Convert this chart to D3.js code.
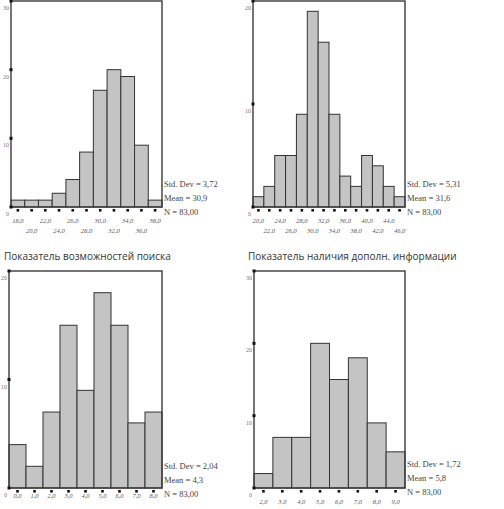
<!DOCTYPE html>
<html>
<head>
<meta charset="utf-8">
<script src="https://cdn.jsdelivr.net/npm/d3@7"></script>
<style>
  html, body { margin: 0; padding: 0; background: #fff; }
  svg { display: block; }
</style>
</head>
<body>
<div id="chart"></div>
<script>
// Histogram data (bin centres and counts)
const binsA = [18, 20, 22, 24, 26, 28, 30, 32, 34, 36, 38];
const countsA = [1, 1, 1, 2, 4, 8, 17, 20, 19, 9, 1];
const statsA = ['Std. Dev = 3,72', 'Mean = 30,9', 'N = 83,00'];

const binsB = [20, 22, 24, 26, 28, 30, 32, 34, 36, 38, 40, 42, 44, 46];
const countsB = [1, 2, 5, 5, 9, 19, 16, 9, 3, 2, 5, 4, 2, 1];
const statsB = ['Std. Dev = 5,31', 'Mean = 31,6', 'N = 83,00'];

const binsC = [0, 1, 2, 3, 4, 5, 6, 7, 8];
const countsC = [4, 2, 7, 15, 9, 18, 15, 6, 7];
const statsC = ['Std. Dev = 2,04', 'Mean = 4,3', 'N = 83,00'];
const titleC = 'Показатель возможностей поиска';

const binsD = [2, 3, 4, 5, 6, 7, 8, 9];
const countsD = [2, 7, 7, 20, 15, 18, 9, 5];
const statsD = ['Std. Dev = 1,72', 'Mean = 5,8', 'N = 83,00'];
const titleD = 'Показатель наличия дополн. информации';

const svg = d3.select('#chart')
  .append('svg')
  .attr('width', 504)
  .attr('height', 509);

// Draw one SPSS-style histogram inside a frame box
function drawHist(opt) {
  const g = svg.append('g');

  const x = d3.scaleBand()
    .domain(opt.bins)
    .range([opt.left, opt.right])
    .paddingInner(0)
    .paddingOuter(0);

  const y = d3.scaleLinear()
    .domain([0, opt.yMax])
    .range([opt.bottom, opt.top]);

  // bars
  g.selectAll('.bar')
    .data(opt.bins)
    .enter()
    .append('rect')
    .attr('x', (d) => x(d))
    .attr('y', (d, i) => y(opt.counts[i]))
    .attr('width', x.bandwidth())
    .attr('height', (d, i) => y(0) - y(opt.counts[i]))
    .attr('fill', '#c4c4c4')
    .attr('stroke', '#333')
    .attr('stroke-width', 1);

  // frame
  g.append('rect')
    .attr('x', opt.left)
    .attr('y', opt.top)
    .attr('width', opt.right - opt.left)
    .attr('height', opt.bottom - opt.top)
    .attr('fill', 'none')
    .attr('stroke', '#3a3a3a')
    .attr('stroke-width', 1.4);

  // y ticks: dots on the axis, labels a bit below
  const yTicks = d3.range(0, opt.yMax + 1, 10);
  g.selectAll('.ytick')
    .data(yTicks)
    .enter()
    .append('rect')
    .attr('x', opt.left - 1.5)
    .attr('y', (d) => y(d) - 1.5)
    .attr('width', 3)
    .attr('height', 3)
    .attr('fill', '#111');

  g.selectAll('.ylab')
    .data(yTicks)
    .enter()
    .append('text')
    .attr('x', opt.left - 2)
    .attr('y', (d) => y(d) + 9)
    .attr('text-anchor', 'end')
    .attr('font-family', 'Liberation Serif')
    .attr('font-size', 6)
    .attr('fill', '#777')
    .text((d) => d);

  // x ticks: dots under the bar centres
  g.selectAll('.xtick')
    .data(opt.bins)
    .enter()
    .append('rect')
    .attr('x', (d) => x(d) + x.bandwidth() / 2 - 1.3)
    .attr('y', opt.bottom + 2)
    .attr('width', 2.6)
    .attr('height', 2.6)
    .attr('fill', '#111');

  g.selectAll('.xlab')
    .data(opt.bins)
    .enter()
    .append('text')
    .attr('x', (d) => x(d) + x.bandwidth() / 2)
    .attr('y', (d, i) => opt.bottom + (opt.twoRows && i % 2 === 1 ? opt.labelRow2 : opt.labelRow1))
    .attr('text-anchor', 'middle')
    .attr('font-family', 'Liberation Serif')
    .attr('font-style', 'italic')
    .attr('font-size', 6.5)
    .attr('fill', '#555')
    .text((d) => d.toFixed(1).replace('.', ','));

  // stats block
  g.selectAll('.stat')
    .data(opt.stats)
    .enter()
    .append('text')
    .attr('x', opt.right + 2)
    .attr('y', (d, i) => opt.statY + i * 14)
    .attr('font-family', 'Liberation Serif')
    .attr('font-size', 8.5)
    .attr('fill', '#444')
    .text((d) => d);

  if (opt.title) {
    svg.append('text')
      .attr('x', opt.titleX)
      .attr('y', opt.titleY)
      .attr('font-family', 'Open Sans')
      .attr('font-size', 10)
      .attr('fill', '#333')
      .text(opt.title);
  }
}

drawHist({
  bins: binsA, counts: countsA, stats: statsA, yMax: 30,
  left: 11, right: 162, top: 1, bottom: 207,
  twoRows: true, labelRow1: 16, labelRow2: 26, statY: 187
});

drawHist({
  bins: binsB, counts: countsB, stats: statsB, yMax: 20,
  left: 253, right: 405, top: 1, bottom: 207,
  twoRows: true, labelRow1: 16, labelRow2: 26, statY: 187
});

drawHist({
  bins: binsC, counts: countsC, stats: statsC, yMax: 20,
  left: 9, right: 162, top: 271, bottom: 488,
  twoRows: false, labelRow1: 10, statY: 469,
  title: titleC, titleX: 4, titleY: 260
});

drawHist({
  bins: binsD, counts: countsD, stats: statsD, yMax: 30,
  left: 254, right: 405, top: 271, bottom: 488,
  twoRows: false, labelRow1: 16, statY: 467,
  title: titleD, titleX: 248, titleY: 260
});
</script>
</body>
</html>
